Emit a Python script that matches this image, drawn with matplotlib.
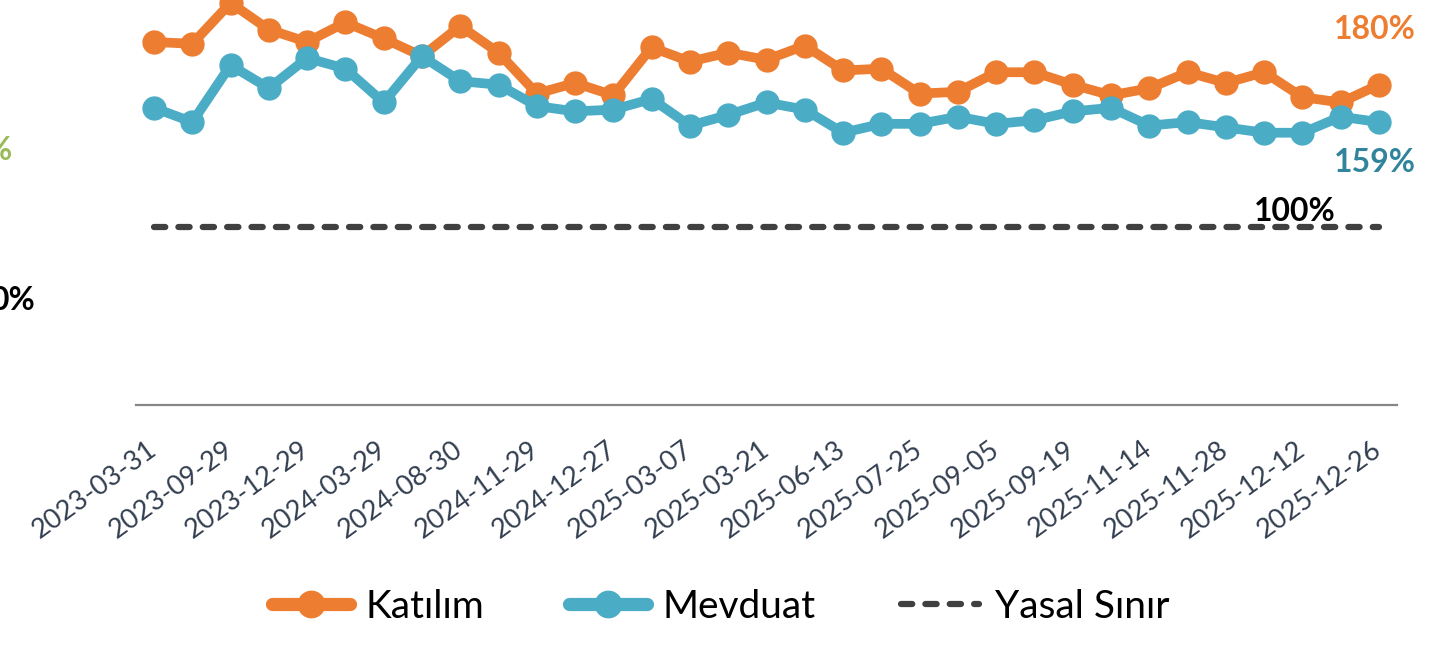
import matplotlib
matplotlib.use("Agg")
import matplotlib.pyplot as plt
from matplotlib.lines import Line2D

# dönem sonu tarihleri (33 gözlem, eksende her ikincisi yazılı)
tarihler = ["2023-03-31", "", "2023-09-29", "", "2023-12-29", "", "2024-03-29", "",
            "2024-08-30", "", "2024-11-29", "", "2024-12-27", "", "2025-03-07", "",
            "2025-03-21", "", "2025-06-13", "", "2025-07-25", "", "2025-09-05", "",
            "2025-09-19", "", "2025-11-14", "", "2025-11-28", "", "2025-12-12", "",
            "2025-12-26"]

katilim = [204, 203, 226, 211, 204, 215, 206, 196, 213, 198, 175, 181, 174, 201, 193, 198,
           194, 202, 188, 189, 175, 176, 187, 187, 180, 174, 178, 187, 181, 187, 173, 170, 180]
mevduat = [167, 159, 191, 178, 195, 189, 170, 196, 182, 180, 168, 165, 166, 172, 157, 163,
           170, 166, 153, 158, 158, 162, 158, 160, 165, 167, 157, 159, 156, 153, 153, 162, 159]
yasal_sinir = [100] * len(tarihler)

TURUNCU = "#ED7D31"
MAVI = "#4BACC6"
MAVI_KOYU = "#31849B"
GRI = "#404040"

plt.rcParams['font.family'] = ['Lato', 'DejaVu Sans']

fig = plt.figure(figsize=(14.41, 6.5), dpi=100)
ax = fig.add_axes([136 / 1441, 1 - 405 / 650, 1261 / 1441, 405 / 650])

x = list(range(len(tarihler)))
ax.plot(x, yasal_sinir, color=GRI, lw=4.5, dashes=(1.8, 2.1), dash_capstyle='round', zorder=1)
ax.plot(x, katilim, color=TURUNCU, lw=7, marker='o', ms=16.5, zorder=2, clip_on=False)
ax.plot(x, mevduat, color=MAVI, lw=7, marker='o', ms=16.5, zorder=3, clip_on=False)

ax.set_xlim(-0.47, len(tarihler) - 0.53)
ax.set_ylim(0, 227.6)

for s in ["top", "left", "right"]:
    ax.spines[s].set_visible(False)
ax.spines["bottom"].set_color("#868686")
ax.spines["bottom"].set_linewidth(1.6)
ax.set_yticks([])
ax.set_xticks(x)
ax.set_xticklabels(tarihler, rotation=36, ha='right', va='center', rotation_mode='anchor',
                   fontsize=19.5, color="#333F50")
ax.tick_params(axis='x', length=0, pad=30)

# son değer etiketleri
ax.text(31.9, 211, "180%", color=TURUNCU, fontsize=23, fontweight='bold', ha='center', va='center')
ax.text(31.9, 136.5, "159%", color=MAVI_KOYU, fontsize=23, fontweight='bold', ha='center', va='center')
ax.text(29.8, 109, "100%", color="black", fontsize=23, fontweight='bold', ha='center', va='center')

# soldaki komşu grafikten kalan kırpılmış etiketler
fig.text(12 / 1441, 1 - 150 / 650, "%", color="#9BBB59", fontsize=23, fontweight='bold', ha='right', va='center')
fig.text(35 / 1441, 1 - 300 / 650, "0%", color="black", fontsize=23, fontweight='bold', ha='right', va='center')

handles = [
    Line2D([], [], color=TURUNCU, lw=9.5, marker='o', ms=19, solid_capstyle='round'),
    Line2D([], [], color=MAVI, lw=9.5, marker='o', ms=19, solid_capstyle='round'),
    Line2D([], [], color=GRI, lw=4.5, dashes=(1.8, 2.1), dash_capstyle='round'),
]
fig.legend(handles, ["Katılım", "Mevduat", "Yasal Sınır"], loc='center', bbox_to_anchor=(0.5, 1 - 607 / 650),
           ncol=3, frameon=False, fontsize=28, handlelength=2.0, handletextpad=0.4, columnspacing=2.2)

fig.savefig("out.png", dpi=100)
